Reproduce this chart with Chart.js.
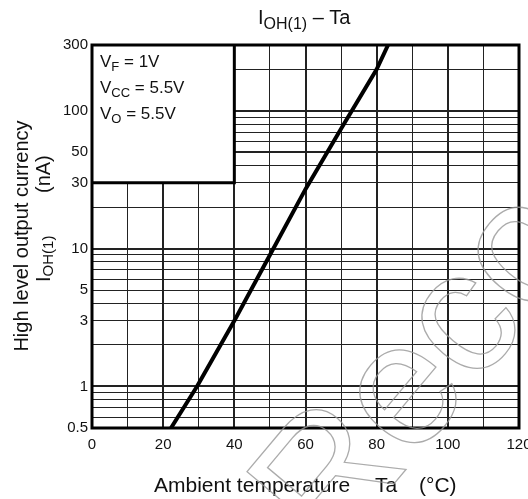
<!DOCTYPE html>
<html>
<head>
<meta charset="utf-8">
<script src="https://cdn.jsdelivr.net/npm/chart.js@4/dist/chart.umd.min.js"></script>
<style>
  html, body { margin: 0; padding: 0; background: #fff; }
  #wrap { width: 528px; height: 499px; }
</style>
</head>
<body>
<div id="wrap"><canvas id="chart" width="528" height="499"></canvas></div>
<script>
// curve
const tempC = [22.2, 29.5, 40, 50, 60, 70, 80, 83.2];
const currentNA = [0.5, 1.0, 3.0, 9.0, 27, 74, 200, 300];

// grid and tick labels
const xGrid = [0, 10, 20, 30, 40, 50, 60, 70, 80, 90, 100, 110, 120];
const xLabels = [0, 20, 40, 60, 80, 100, 120];
const xThick = [20, 40, 60, 80, 100];
const yGrid = [0.5, 0.6, 0.7, 0.8, 0.9, 1, 2, 3, 4, 5, 6, 7, 8, 9, 10, 20, 30, 40, 50, 60, 70, 80, 90, 100, 200, 300];
const yLabels = [0.5, 1, 3, 5, 10, 30, 50, 100, 300];
const yThick = [1, 10, 50, 100];

// condition box (in data units)
const boxX = [0, 40];
const boxY = [30, 300];

const FONT = '"Liberation Sans", Arial, Helvetica, sans-serif';

function runs(ctx, x, y, parts) {
    let cx = x;
    for (const [t, size, dy] of parts) {
        ctx.font = size + 'px ' + FONT;
        ctx.fillText(t, cx, y + dy);
        cx += ctx.measureText(t).width;
    }
    return cx;
}

const extras = {
    id: 'extras',
    beforeDatasetsDraw(chart) {
        const { ctx, scales: { x, y } } = chart;
        const l = x.getPixelForValue(boxX[0]), r = x.getPixelForValue(boxX[1]);
        const t = y.getPixelForValue(boxY[1]), b = y.getPixelForValue(boxY[0]);
        ctx.save();
        ctx.fillStyle = '#fff';
        ctx.fillRect(l, t, r - l, b - t);
        ctx.lineWidth = 3;
        ctx.strokeStyle = '#000';
        ctx.beginPath();
        ctx.moveTo(r, t);
        ctx.lineTo(r, b);
        ctx.lineTo(l, b);
        ctx.stroke();
        ctx.restore();
    },
    afterDatasetsDraw(chart) {
        const { ctx, chartArea: a } = chart;
        ctx.save();
        ctx.lineWidth = 3;
        ctx.strokeStyle = '#000';
        ctx.strokeRect(a.left, a.top, a.right - a.left, a.bottom - a.top);
        ctx.restore();
    },
    afterDraw(chart) {
        const ctx = chart.ctx;
        ctx.save();
        ctx.fillStyle = '#111';
        ctx.textBaseline = 'alphabetic';

        // title
        runs(ctx, 258, 24, [['I', 20, 0], ['OH(1)', 16, 5], [' \u2013 Ta', 20, 0]]);

        // conditions
        runs(ctx, 100, 67, [['V', 17, 0], ['F', 13, 4], [' = 1V', 17, 0]]);
        runs(ctx, 100, 93, [['V', 17, 0], ['CC', 13, 4], [' = 5.5V', 17, 0]]);
        runs(ctx, 100, 119, [['V', 17, 0], ['O', 13, 4], [' = 5.5V', 17, 0]]);

        // x title
        ctx.font = '21px ' + FONT;
        ctx.fillText('Ambient temperature', 154, 492);
        ctx.fillText('Ta', 375, 492);
        ctx.fillText('(\u00b0C)', 419, 492);

        // y title
        ctx.save();
        ctx.translate(28, 236);
        ctx.rotate(-Math.PI / 2);
        ctx.textAlign = 'center';
        ctx.font = '20px ' + FONT;
        ctx.fillText('High level output currency', 0, 0);
        ctx.restore();

        ctx.save();
        ctx.translate(50, 282);
        ctx.rotate(-Math.PI / 2);
        runs(ctx, 0, 0, [['I', 20, 0], ['OH(1)', 15, 3]]);
        ctx.font = '20px ' + FONT;
        ctx.fillText('(nA)', 89, 0);
        ctx.restore();

        // faint outlined watermark
        ctx.save();
        ctx.translate(330, 560);
        ctx.rotate(-50 * Math.PI / 180);
        ctx.font = '175px ' + FONT;
        ctx.strokeStyle = 'rgba(150,150,150,0.8)';
        ctx.lineWidth = 1.3;
        ctx.strokeText('Reco', 0, 0);
        ctx.restore();

        ctx.restore();
    }
};

new Chart(document.getElementById('chart'), {
    type: 'scatter',
    data: {
        datasets: [{
            data: tempC.map((t, i) => ({ x: t, y: currentNA[i] })),
            showLine: true,
            borderColor: '#000',
            borderWidth: 4,
            pointRadius: 0,
            tension: 0
        }]
    },
    options: {
        responsive: false,
        animation: false,
        events: [],
        layout: { padding: { left: 0, top: 45, right: 9, bottom: 0 } },
        plugins: { legend: { display: false }, tooltip: { enabled: false } },
        scales: {
            x: {
                type: 'linear',
                min: 0,
                max: 120,
                afterBuildTicks: s => { s.ticks = xGrid.map(v => ({ value: v })); },
                afterFit: s => { s.height = 71; s.paddingLeft = 0; s.paddingRight = 0; },
                border: { display: false },
                grid: {
                    color: '#222',
                    drawTicks: false,
                    lineWidth: c => (c.tick && xThick.includes(c.tick.value)) ? 2 : 1
                },
                ticks: {
                    autoSkip: false,
                    maxRotation: 0,
                    padding: 8,
                    color: '#111',
                    font: { family: FONT, size: 15 },
                    callback: v => xLabels.includes(v) ? String(v) : ''
                }
            },
            y: {
                type: 'logarithmic',
                min: 0.5,
                max: 300,
                afterBuildTicks: s => { s.ticks = yGrid.map(v => ({ value: v })); },
                afterFit: s => { s.width = 92; s.paddingTop = 0; s.paddingBottom = 0; },
                border: { display: false },
                grid: {
                    color: '#222',
                    drawTicks: false,
                    lineWidth: c => (c.tick && yThick.includes(c.tick.value)) ? 2 : 1
                },
                ticks: {
                    autoSkip: false,
                    padding: 4,
                    color: '#111',
                    font: { family: FONT, size: 15 },
                    callback: v => yLabels.includes(v) ? String(v) : ''
                }
            }
        }
    },
    plugins: [extras]
});
</script>
</body>
</html>
